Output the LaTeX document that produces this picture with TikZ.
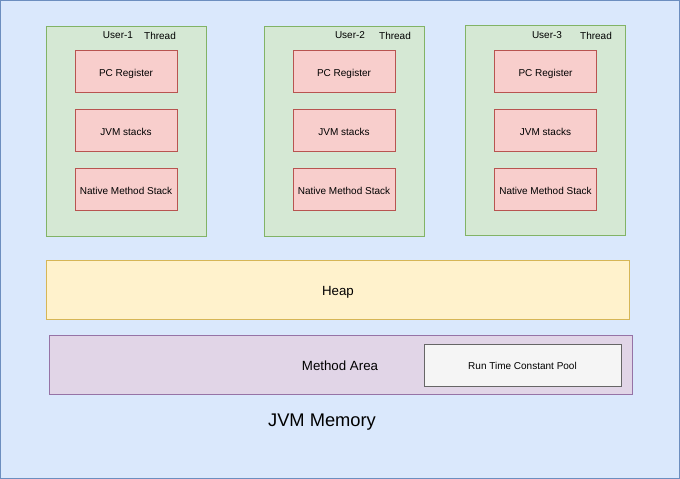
\documentclass[tikz,border=0pt]{standalone}
\usepackage{fontspec}
\setmainfont{Liberation Sans}
\definecolor{bgfill}{HTML}{DAE8FC}
\definecolor{bgline}{HTML}{6C8EBF}
\definecolor{grfill}{HTML}{D5E8D4}
\definecolor{grline}{HTML}{82B366}
\definecolor{rdfill}{HTML}{F8CECC}
\definecolor{rdline}{HTML}{B85450}
\definecolor{ylfill}{HTML}{FFF2CC}
\definecolor{ylline}{HTML}{D6B656}
\definecolor{pufill}{HTML}{E1D5E7}
\definecolor{puline}{HTML}{9673A6}
\definecolor{gyfill}{HTML}{F5F5F5}
\definecolor{gyline}{HTML}{666666}
\begin{document}
\begin{tikzpicture}[x=1pt,y=-1pt,
  box/.style={draw, line width=0.75pt, inner sep=0pt, rectangle},
  threadbox/.style={box, fill=grfill, draw=grline, minimum width=160pt, minimum height=210pt},
  membox/.style={box, fill=rdfill, draw=rdline, minimum width=102pt, minimum height=42pt, font=\fontsize{10}{12}\selectfont, text height=9.6pt, text depth=0pt},
  lbl/.style={inner sep=0pt, anchor=base, font=\fontsize{10}{12}\selectfont}]
\useasboundingbox (0,0) rectangle (680,479);
\node[box, fill=bgfill, draw=bgline, minimum width=679pt, minimum height=478pt] (mem) at (340,239.5) {};
% threads
\node[threadbox] (t1) at (126,131) {};
\node[threadbox] (t2) at (344,131) {};
\node[threadbox] (t3) at (545.5,130.5) {};
\node[lbl] (u1) at (118,38) {User-1};
\node[lbl] (th1) at (160,39) {Thread};
\node[lbl] (u2) at (350,38) {User-2};
\node[lbl] (th2) at (395,39) {Thread};
\node[lbl] (u3) at (547,38) {User-3};
\node[lbl] (th3) at (596,39) {Thread};
\node[membox] (pc1) at (126,71.5) {PC Register};
\node[membox] (js1) at (126,130.5) {JVM stacks};
\node[membox] (ns1) at (126,189.5) {Native Method Stack};
\node[membox] (pc2) at (344,71.5) {PC Register};
\node[membox] (js2) at (344,130.5) {JVM stacks};
\node[membox] (ns2) at (344,189.5) {Native Method Stack};
\node[membox] (pc3) at (545.5,71.5) {PC Register};
\node[membox] (js3) at (545.5,130.5) {JVM stacks};
\node[membox] (ns3) at (545.5,189.5) {Native Method Stack};
% heap
\node[box, fill=ylfill, draw=ylline, minimum width=583pt, minimum height=59pt] (heap) at (337.5,289.5) {};
\node[lbl, font=\fontsize{13.3}{15}\selectfont] (heapt) at (338,295.5) {Heap};
% method area
\node[box, fill=pufill, draw=puline, minimum width=583pt, minimum height=59pt] (ma) at (340.5,365) {};
\node[lbl, font=\fontsize{13.3}{15}\selectfont] (mat) at (340,370.5) {Method Area};
\node[box, fill=gyfill, draw=gyline, minimum width=197pt, minimum height=42pt, font=\fontsize{10}{12}\selectfont, text height=8.2pt, text depth=0pt] (rtcp) at (522.5,365) {Run Time Constant Pool};
\node[lbl, font=\fontsize{18.3}{21}\selectfont] (jvm) at (322,426.5) {JVM Memory};
\end{tikzpicture}
\end{document}
